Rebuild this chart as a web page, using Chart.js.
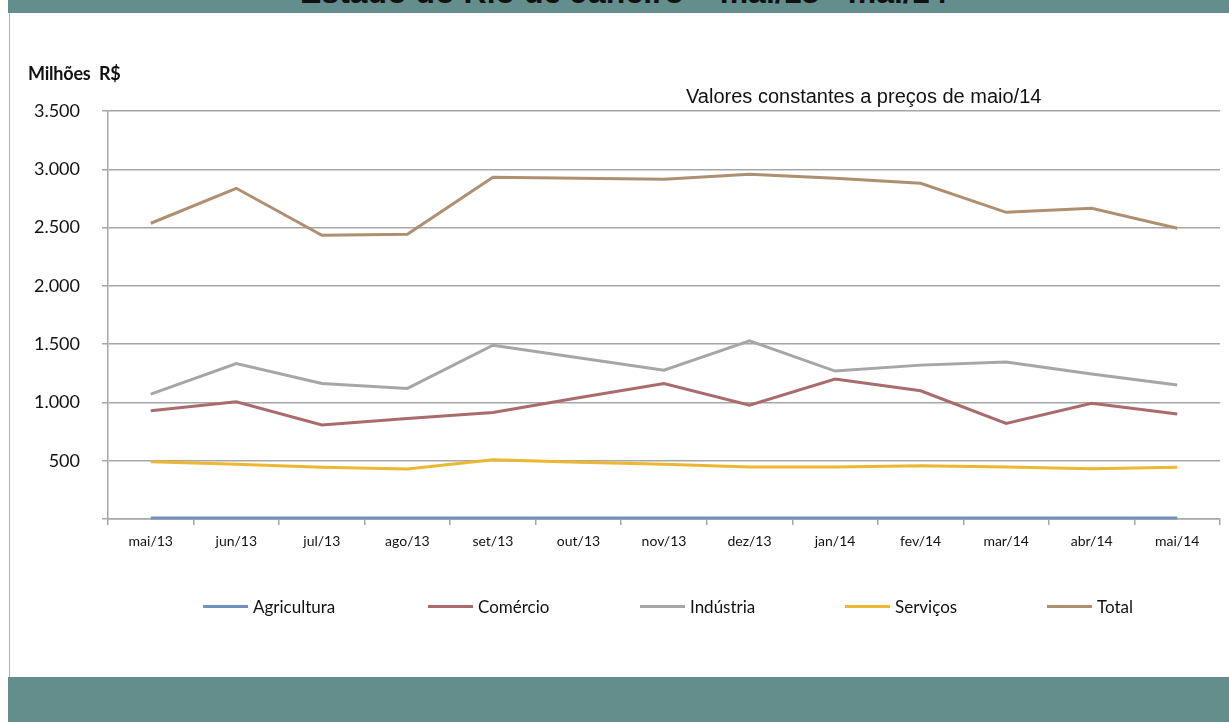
<!DOCTYPE html>
<html><head><meta charset="utf-8">
<script src="https://cdn.jsdelivr.net/npm/chart.js@4.4.0/dist/chart.umd.min.js"></script>
<style>
body{margin:0;width:1229px;height:722px;overflow:hidden;background:#fff;position:relative;font-family:Lato,"Open Sans",sans-serif}
#topband{position:absolute;left:8px;top:0;width:1221px;height:13px;background:#638e8b;overflow:hidden}
#title{position:absolute;left:292px;top:-25px;font:bold 32px "Liberation Sans",Arial,sans-serif;line-height:34px;color:#111;white-space:nowrap}
#botband{position:absolute;left:8px;top:677px;width:1221px;height:45px;background:#638e8b}
#leftline{position:absolute;left:9px;top:13px;width:1px;height:664px;background:#b3b3b3}
#unit{position:absolute;left:28px;top:62px;font:bold 18px Lato,sans-serif;color:#111;white-space:pre;letter-spacing:-0.2px}
#sub{position:absolute;left:686px;top:85px;font:20px "Liberation Sans",Arial,sans-serif;color:#111;white-space:nowrap}
canvas{position:absolute;left:0;top:0}
.lg{position:absolute;top:596px;height:20px;display:flex;align-items:center;font:17px Lato,sans-serif;color:#111;white-space:nowrap}
.lg span.l{display:inline-block;width:45px;height:3px;margin-right:5px}
</style></head>
<body>
<div id="topband"><div id="title">Estado do Rio de Janeiro – mai/13 - mai/14</div></div>
<div id="leftline"></div>
<div id="botband"></div>
<canvas id="c" width="1229" height="722"></canvas>
<div id="unit">Milhões  R$</div>
<div id="sub">Valores constantes a preços de maio/14</div>
<div id="legend"></div>
<script>
const categories = ['mai/13','jun/13','jul/13','ago/13','set/13','out/13','nov/13','dez/13','jan/14','fev/14','mar/14','abr/14','mai/14'];
const agricultura = [8, 8, 8, 8, 8, 8, 8, 8, 8, 8, 8, 8, 8];
const comercio   = [928, 1005, 806, 863, 914, 1040, 1163, 977, 1200, 1100, 820, 992, 900];
const industria  = [1071, 1334, 1163, 1120, 1491, 1384, 1277, 1528, 1269, 1320, 1346, 1243, 1149];
const servicos   = [491, 469, 443, 429, 508, 486, 469, 446, 446, 457, 446, 431, 443];
const total      = [2537, 2837, 2434, 2443, 2931, 2923, 2914, 2957, 2923, 2880, 2631, 2666, 2494];
const yTicks = [0, 500, 1000, 1500, 2000, 2500, 3000, 3500];

const seriesNames = ['Agricultura','Comércio','Indústria','Serviços','Total'];
const seriesData = [agricultura, comercio, industria, servicos, total];
const seriesColors = ['#7192bd','#aa6b6d','#a6a6a6','#ecb731','#ae9070'];
const legendX = [203, 428, 640, 845, 1047];

function fmt(v){
  if (v === 0) return '';
  if (v >= 1000) return Math.floor(v/1000) + '.' + String(v%1000).padStart(3,'0');
  return String(v);
}

const gridColor = '#a6a6a6';
new Chart(document.getElementById('c'), {
  type: 'line',
  data: {
    labels: categories,
    datasets: seriesNames.map((n,i)=>({
      label: n, data: seriesData[i], borderColor: seriesColors[i], backgroundColor: seriesColors[i],
      borderWidth: 3, pointRadius: 0, tension: 0, fill: false, clip: false
    }))
  },
  options: {
    responsive: false, animation: false,
    layout: {padding: {top: 111, right: 9, left: 0, bottom: 0}},
    plugins: {legend: {display: false}, title: {display: false}, tooltip: {enabled: false}},
    scales: {
      x: {
        offset: true,
        grid: {offset: true, drawOnChartArea: false, drawTicks: true, tickLength: 6, color: gridColor, lineWidth: 1.5},
        border: {color: gridColor, width: 1.5},
        ticks: {font: {family: 'Lato', size: 14}, color: '#111', padding: 8, maxRotation: 0, autoSkip: false},
        afterFit: s => { s.height = 203; }
      },
      y: {
        min: 0, max: 3500,
        afterBuildTicks: s => { s.ticks = yTicks.map(v => ({value: v})); },
        grid: {color: gridColor, lineWidth: 1.5, tickLength: 6, drawTicks: true},
        border: {color: gridColor, width: 1.5},
        ticks: {font: {family: 'Lato', size: 18}, color: '#111', padding: 22, callback: v => fmt(v)},
        afterFit: s => { s.width = 108; }
      }
    }
  }
});

const lg = document.getElementById('legend');
seriesNames.forEach((n,i)=>{
  const d = document.createElement('div');
  d.className = 'lg';
  d.style.left = legendX[i] + 'px';
  d.innerHTML = '<span class="l" style="background:' + seriesColors[i] + '"></span>' + n;
  lg.appendChild(d);
});
</script>
</body></html>
